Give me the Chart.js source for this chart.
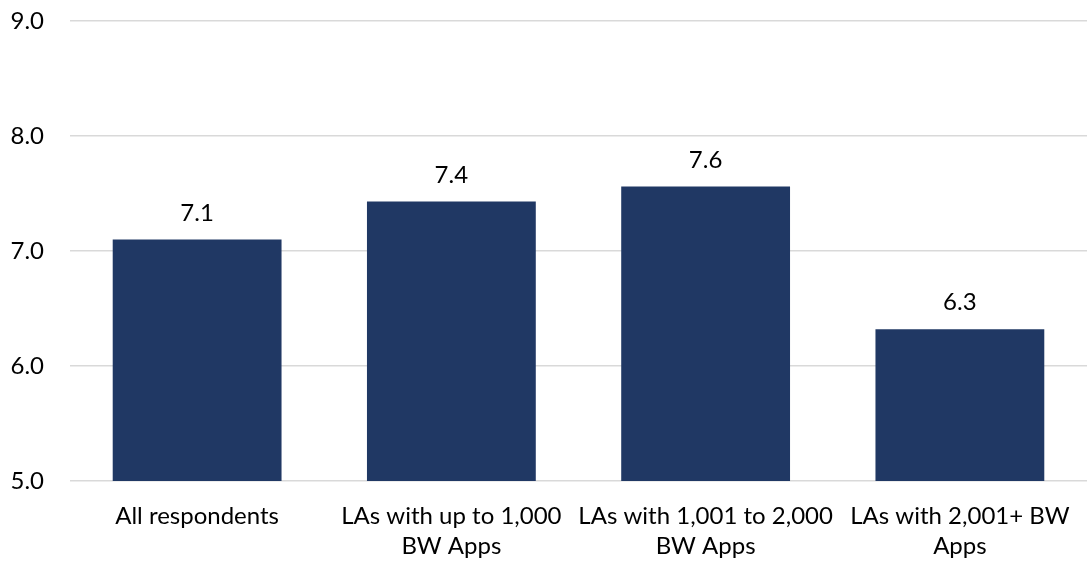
<!DOCTYPE html>
<html>
<head>
<meta charset="utf-8">
<script src="https://cdn.jsdelivr.net/npm/chart.js@4"></script>
<style>
html,body{margin:0;padding:0;background:#fff;}
#wrap{width:1087px;height:562px;}
</style>
</head>
<body>
<div id="wrap"><canvas id="myChart" width="1087" height="562"></canvas></div>
<script>
var categories=[
    ["All respondents"],
    ["LAs with up to 1,000","BW Apps"],
    ["LAs with 1,001 to 2,000","BW Apps"],
    ["LAs with 2,001+ BW","Apps"]
];
var scores=[7.1,7.43,7.56,6.32];
var yTicks=[5,6,7,8,9];

var fontName="Lato, 'Open Sans', sans-serif";

// value labels above bars
var barLabels={
    id:"barLabels",
    afterDatasetsDraw:function(chart){
        var ctx=chart.ctx;
        var meta=chart.getDatasetMeta(0);
        ctx.save();
        ctx.font="24px "+fontName;
        ctx.fillStyle="#000";
        ctx.textAlign="center";
        ctx.textBaseline="alphabetic";
        meta.data.forEach(function(bar,i){
            ctx.fillText(scores[i].toFixed(1),bar.x,bar.y-19);
        });
        ctx.restore();
    }
};

var ctx=document.getElementById("myChart").getContext("2d");
var myChart=new Chart(ctx,{
    type:"bar",
    data:{
        labels:categories,
        datasets:[
            {
                data:scores,
                backgroundColor:"#203864",
                categoryPercentage:0.664,
                barPercentage:1.0
            }
        ]
    },
    options:{
        responsive:false,
        animation:false,
        layout:{padding:{top:21,right:0,bottom:0,left:0}},
        plugins:{
            legend:{display:false},
            tooltip:{enabled:false}
        },
        scales:{
            x:{
                grid:{display:false,drawTicks:false},
                border:{display:false},
                ticks:{
                    color:"#000",
                    font:{family:fontName,size:24,lineHeight:1.25},
                    padding:20,
                    maxRotation:0,
                    autoSkip:false
                },
                afterFit:function(scale){
                    scale.height=81;
                    scale.paddingLeft=0;
                    scale.paddingRight=0;
                }
            },
            y:{
                min:5,
                max:9,
                afterBuildTicks:function(scale){
                    scale.ticks=yTicks.map(function(v){return {value:v};});
                },
                grid:{color:"#d9d9d9",lineWidth:1.5,drawTicks:false},
                border:{display:false},
                ticks:{
                    color:"#000",
                    font:{family:fontName,size:24},
                    padding:26,
                    callback:function(v){return Number(v).toFixed(1);}
                },
                afterFit:function(scale){
                    scale.width=70;
                    scale.paddingTop=0;
                    scale.paddingBottom=0;
                }
            }
        }
    },
    plugins:[barLabels]
});
</script>
</body>
</html>
